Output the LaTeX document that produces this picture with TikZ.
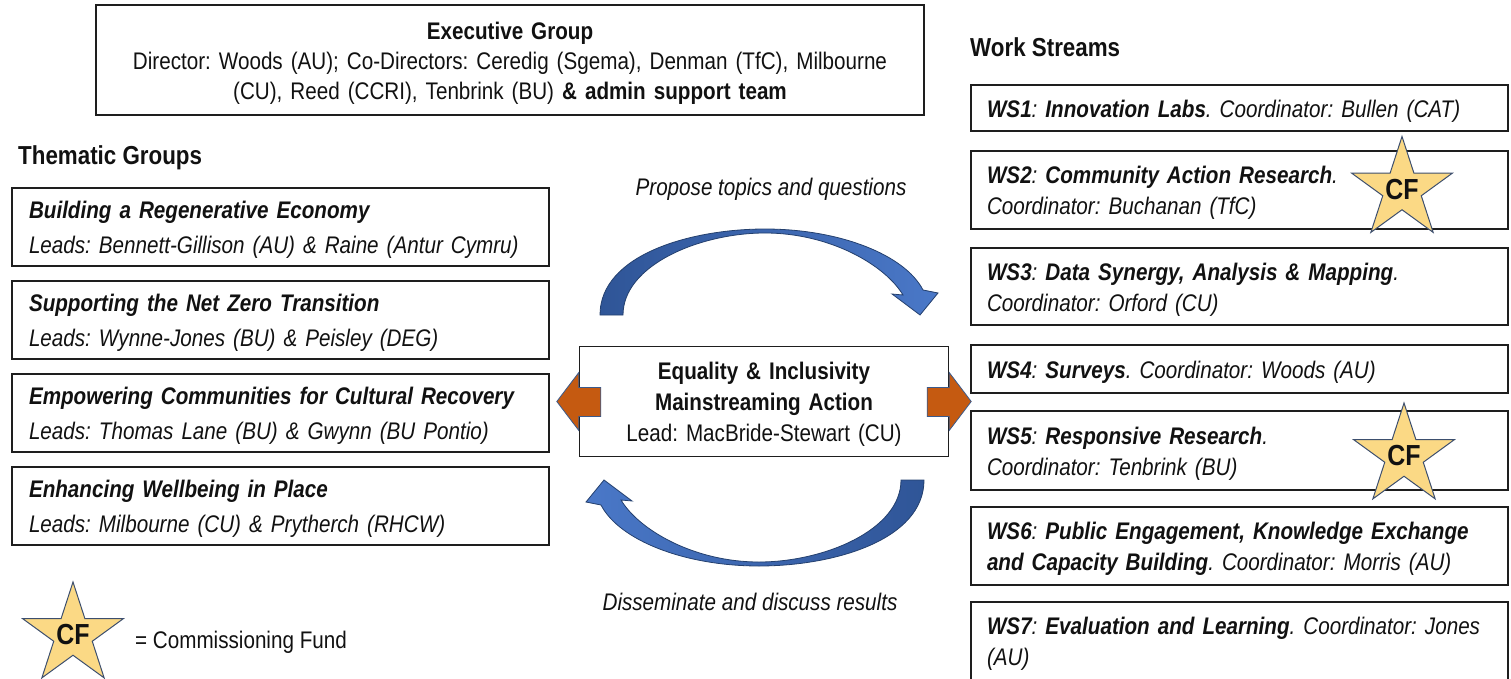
\documentclass[tikz,border=0pt]{standalone}
\usepackage{fontspec}
\setmainfont{Liberation Sans}[FakeStretch=0.86]
\frenchspacing
\usetikzlibrary{shapes.geometric,calc}
\definecolor{ink}{HTML}{111111}
\definecolor{boxline}{HTML}{1E1E1E}
\definecolor{blueDark}{HTML}{2F5597}
\definecolor{blueLight}{HTML}{4A78C8}
\definecolor{blueEdge}{HTML}{24406E}
\definecolor{rust}{HTML}{C55A11}
\definecolor{rustEdge}{HTML}{3A5A8C}
\definecolor{starFill}{HTML}{FBD985}
\definecolor{starEdge}{HTML}{3D4F6E}
% invisible strut that lowers the text block inside a box a little
\newcommand\upstrut{\rule{0pt}{23pt}}
\begin{document}
\begin{tikzpicture}[x=1pt,y=-1pt,
  box/.style={draw=boxline, line width=1.4pt, rectangle, inner ysep=0pt,
    align=left, text=ink, font=\fontsize{24}{31}\selectfont},
  tgbox/.style={box, minimum width=537pt, minimum height=78pt,
    inner xsep=17pt, text width=503pt, font=\fontsize{24}{35}\selectfont\itshape},
  wsbox/.style={box, minimum width=537pt, inner xsep=16pt, text width=505pt,
    font=\fontsize{24}{31}\selectfont\itshape},
  heading/.style={anchor=base west, inner sep=0pt, text=ink,
    font=\fontsize{26}{30}\selectfont\bfseries},
  flowlabel/.style={anchor=base, inner sep=0pt, text=ink,
    font=\fontsize{24}{30}\selectfont\itshape},
  cfstar/.style={shape=star, star points=5, star point ratio=2.618,
    minimum size=106pt, inner sep=0pt, fill=starFill, draw=starEdge,
    line width=1pt},
  cftext/.style={inner sep=0pt, text=ink, font=\fontsize{29}{30}\selectfont\bfseries},
  blockarrow/.style={fill=rust, draw=rustEdge, line width=0.8pt, line join=miter},
  curvearrow/.style={draw=blueEdge, line width=0.8pt}
]
\useasboundingbox (0,0) rectangle (1511,679);

% Executive group
\node[box, align=center, minimum width=828pt, minimum height=110pt,
      text width=780pt, font=\fontsize{24}{30}\selectfont] (exec) at (510,60)
  {\upstrut\textbf{Executive Group}\\
   Director: Woods (AU); Co-Directors: Ceredig (Sgema), Denman (TfC), Milbourne\\
   (CU), Reed (CCRI), Tenbrink (BU) \textbf{\& admin support team}};

% Column headings
\node[heading] (tghead) at (18,165) {Thematic Groups};
\node[heading] (wshead) at (970,57) {Work Streams};

% Thematic groups
\node[tgbox] (tg1) at (280.5,227) {\upstrut\textbf{Building a Regenerative Economy}\\
  Leads: Bennett-Gillison (AU) \& Raine (Antur Cymru)};
\node[tgbox] (tg2) at (280.5,320) {\upstrut\textbf{Supporting the Net Zero Transition}\\
  Leads: Wynne-Jones (BU) \& Peisley (DEG)};
\node[tgbox] (tg3) at (280.5,413) {\upstrut\textbf{Empowering Communities for Cultural Recovery}\\
  Leads: Thomas Lane (BU) \& Gwynn (BU Pontio)};
\node[tgbox] (tg4) at (280.5,506) {\upstrut\textbf{Enhancing Wellbeing in Place}\\
  Leads: Milbourne (CU) \& Prytherch (RHCW)};

% Work streams
\node[wsbox, minimum height=46pt] (ws1) at (1239.5,108)
  {\upstrut\textbf{WS1}: \textbf{Innovation Labs}. Coordinator: Bullen (CAT)};
\node[wsbox, minimum height=78pt] (ws2) at (1239.5,190)
  {\upstrut\textbf{WS2}: \textbf{Community Action Research}.\\ Coordinator: Buchanan (TfC)};
\node[wsbox, minimum height=77pt] (ws3) at (1239.5,286.5)
  {\upstrut\textbf{WS3}: \textbf{Data Synergy, Analysis \& Mapping}.\\ Coordinator: Orford (CU)};
\node[wsbox, minimum height=48pt] (ws4) at (1239.5,369)
  {\upstrut\textbf{WS4}: \textbf{Surveys}. Coordinator: Woods (AU)};
\node[wsbox, minimum height=79pt] (ws5) at (1239.5,450.5)
  {\upstrut\textbf{WS5}: \textbf{Responsive Research}.\\ Coordinator: Tenbrink (BU)};
\node[wsbox, minimum height=78pt] (ws6) at (1239.5,546)
  {\upstrut\textbf{WS6}: \textbf{Public Engagement, Knowledge Exchange}\\
   \textbf{and Capacity Building}. Coordinator: Morris (AU)};
\node[wsbox, minimum height=78pt] (ws7) at (1239.5,641)
  {\upstrut\textbf{WS7}: \textbf{Evaluation and Learning}. Coordinator: Jones\\ (AU)};

% Commissioning fund markers
\node[cfstar] (cf2) at (1402,189.5) {};
\node[cftext] at (cf2) {CF};
\node[cfstar] (cf5) at (1404,456) {};
\node[cftext] at (cf5) {CF};

% Central mainstreaming action
\node[box, align=center, minimum width=369pt, minimum height=110pt,
      text width=340pt, font=\fontsize{24}{31}\selectfont] (eq) at (764,401.5)
  {\upstrut\textbf{Equality \& Inclusivity}\\ \textbf{Mainstreaming Action}\\
   Lead: MacBride-Stewart (CU)};

% Block arrows out of the central box
\draw[blockarrow] ($(eq.west)+(-22,0)$) -- ($(eq.west)+(0,-29)$)
  -- ($(eq.west)+(0,-14)$) -- ($(eq.west)+(22,-14)$) -- ($(eq.west)+(22,15)$)
  -- ($(eq.west)+(0,15)$) -- ($(eq.west)+(0,29)$) -- cycle;
\draw[blockarrow] ($(eq.east)+(22,0)$) -- ($(eq.east)+(0,-29)$)
  -- ($(eq.east)+(0,-14)$) -- ($(eq.east)+(-22,-14)$) -- ($(eq.east)+(-22,15)$)
  -- ($(eq.east)+(0,15)$) -- ($(eq.east)+(0,29)$) -- cycle;

% Curved arrow over the top
\shade[curvearrow, left color=blueDark, right color=blueLight]
  (600,315) .. controls (600,255) and (690,229) .. (765,229)
  .. controls (840,229) and (905,255) .. (923,290)
  -- (938,293) -- (920,315) -- (892,294) -- (903,295)
  .. controls (885,265) and (830,233) .. (765,233)
  .. controls (700,233) and (623,265) .. (623,315) -- cycle;

% Curved arrow underneath
\shade[curvearrow, left color=blueLight, right color=blueDark]
  (924,480) .. controls (924,540) and (834,566) .. (759,566)
  .. controls (684,566) and (619,540) .. (601,505)
  -- (586,502) -- (604,480) -- (632,501) -- (621,500)
  .. controls (639,530) and (694,562) .. (759,562)
  .. controls (824,562) and (901,530) .. (901,480) -- cycle;

\node[flowlabel] (propose) at (771,196) {Propose topics and questions};
\node[flowlabel] (dissem) at (750,610) {Disseminate and discuss results};

% Legend
\node[cfstar] (cflegend) at (73,635) {};
\node[cftext] at (cflegend) {CF};
\node[anchor=base west, inner sep=0pt, text=ink, font=\fontsize{24}{30}\selectfont]
  (legendtext) at (135,648) {= Commissioning Fund};
\end{tikzpicture}
\end{document}
